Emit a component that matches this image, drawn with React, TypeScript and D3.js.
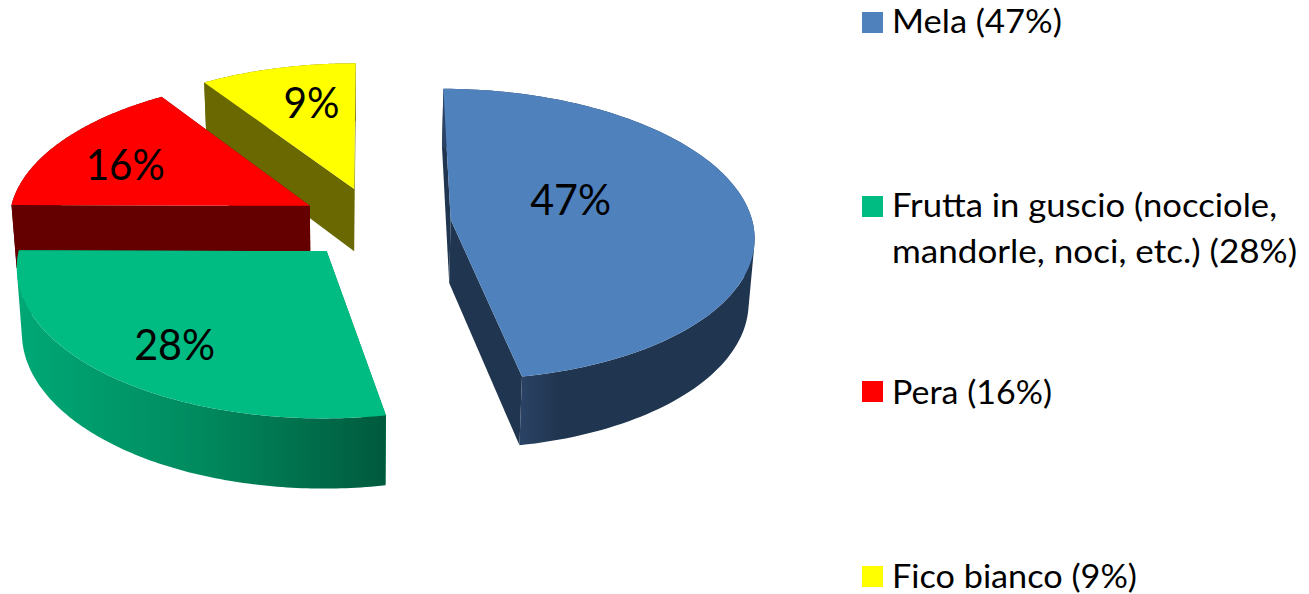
import React from "react";
import * as d3 from "d3";

const categories = ["Mela", "Frutta in guscio", "Pera", "Fico bianco"];
const shares = [47, 28, 15.65, 9.35];
const shareLabels = ["47%", "28%", "16%", "9%"];
const topColors = ["#4f81bd", "#00bb82", "#ff0000", "#ffff00"];
const cutColors = ["#20354f", "#00885c", "#640000", "#6a6800"];
const wallStops = [
  ["#2b4365", "#20354f", "#20354f"],
  ["#00a876", "#008a5e", "#005a3d"],
  ["#640000", "#640000", "#640000"],
  ["#6a6800", "#6a6800", "#6a6800"],
];
const wallSpans = [[519, 600], [18, 385], [0, 400], [200, 360]];
const labelAngles = [71.6, 218, 294.8, 347];
const labelRadii = [0.43, 0.745, 0.706, 0.684];
const labelWidths = [81, 81, 79, 56];
const drawOrder = [3, 2, 0, 1];
const legendLines = [
  { lines: ["Mela (47%)"], widths: [170], swatchY: 12, baseline: 33 },
  { lines: ["Frutta in guscio (nocciole,", "mandorle, noci, etc.) (28%)"], widths: [385, 405], swatchY: 196, baseline: 217 },
  { lines: ["Pera (16%)"], widths: [160], swatchY: 381, baseline: 404 },
  { lines: ["Fico bianco (9%)"], widths: [245], swatchY: 566, baseline: 588 },
];

const W = 1309, H = 594;
const explode = 0.25;
const centerX = 0.07, centerV = -0.015;
const vx = 354.5, y0 = 225, fx = 302.5, fy = 145, persp = 0.1, shrink = 0.985;
const rot = (0.3 * Math.PI) / 180;

const project = (X: number, V: number, z: number): [number, number] => {
  const s = 1 / (1 - persp * V);
  const k = z ? shrink : 1;
  const drop = z ? 63.5 + 50 * (s - 1) : 0;
  return [vx + fx * X * s * k, y0 + fy * V * s + drop];
};

const pie = d3.pie<number>().sort(null).startAngle(rot).endAngle(2 * Math.PI + rot);
const slices = pie(shares);
const line = d3.line<[number, number]>();

export default function App() {
  const shapes = slices.map((sl, i) => {
    const mid = (sl.startAngle + sl.endAngle) / 2;
    const ax = centerX + explode * Math.sin(mid);
    const av = centerV - explode * Math.cos(mid);
    const at = (a: number, r: number, z: number) =>
      project(ax + r * Math.sin(a), av - r * Math.cos(a), z);
    const angles = d3.range(0, 121).map(
      (j) => sl.startAngle + ((sl.endAngle - sl.startAngle) * j) / 120
    );
    const topArc = angles.map((a) => at(a, 1, 0));
    const botArc = angles.map((a) => at(a, 1, 1));
    const apexT = project(ax, av, 0);
    const apexB = project(ax, av, 1);
    const [sa, ea] = [sl.startAngle, sl.endAngle];
    const wall = d3
      .pairs(d3.range(angles.length))
      .map(([p, q]) => {
        const quad: [number, number][] = [topArc[p], topArc[q], botArc[q], botArc[p]];
        if (d3.polygonArea(quad) < 0) quad.reverse();
        return line(quad)! + "Z";
      })
      .join("");
    return {
      i,
      top: line([apexT, ...topArc])! + "Z",
      wall,
      cutA: line([apexT, at(sa, 1, 0), at(sa, 1, 1), apexB])! + "Z",
      cutB: line([apexT, at(ea, 1, 0), at(ea, 1, 1), apexB])! + "Z",
      label: at((labelAngles[i] * Math.PI) / 180, labelRadii[i], 0),
    };
  });
  return (
    <svg
      width={W}
      height={H}
      style={{ position: "absolute", left: 0, top: 0, background: "#fff" }}
      fontFamily="Lato, Carlito, sans-serif"
    >
      <defs>
        {wallStops.map((st, i) => (
          <linearGradient
            key={i}
            id={`wall${i}`}
            gradientUnits="userSpaceOnUse"
            x1={wallSpans[i][0]}
            x2={wallSpans[i][1]}
            y1={0}
            y2={0}
          >
            {st.map((c, j) => (
              <stop key={j} offset={j / (st.length - 1)} stopColor={c} />
            ))}
          </linearGradient>
        ))}
      </defs>
      {drawOrder.map((i) => {
        const s = shapes[i];
        return (
          <g key={categories[i]}>
            <path d={s.cutA} fill={cutColors[i]} />
            <path d={s.cutB} fill={cutColors[i]} />
            <path d={s.wall} fill={`url(#wall${i})`} />
            <path d={s.top} fill={topColors[i]} />
          </g>
        );
      })}
      {shapes.map((s) => (
        <text
          key={s.i}
          x={s.label[0]}
          y={s.label[1] + 15}
          textAnchor="middle"
          fontSize={43}
          textLength={labelWidths[s.i]}
          lengthAdjust="spacingAndGlyphs"
          fill="#000"
        >
          {shareLabels[s.i]}
        </text>
      ))}
      {legendLines.map((item, i) => (
        <g key={i}>
          <rect x={862} y={item.swatchY} width={21} height={21} fill={topColors[i]} />
          {item.lines.map((t, j) => (
            <text
              key={j}
              x={892}
              y={item.baseline + j * 46}
              fontSize={33.5}
              textLength={item.widths[j]}
              lengthAdjust="spacingAndGlyphs"
              fill="#000"
            >
              {t}
            </text>
          ))}
        </g>
      ))}
    </svg>
  );
}
